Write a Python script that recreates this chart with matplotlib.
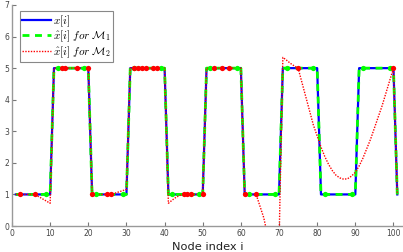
import numpy as np
import matplotlib
matplotlib.use("Agg")
import matplotlib.pyplot as plt

plt.rcParams['mathtext.fontset'] = 'cm'

# ---- data ----
node_index = list(range(1, 102))
signal_x = [1]*10 + [5]*10 + [1]*10 + [5]*10 + [1]*10 + [5]*10 + [1]*10 + [5]*10 + [1]*10 + [5]*10 + [1]

recon_m1 = list(signal_x)

recon_m2 = (
    [1, 1, 1, 1, 1, 1, 0.93, 0.86, 0.79, 0.72] +
    [5]*10 +
    [1, 1, 1, 1, 1, 1, 1.04, 1.08, 1.12, 1.16] +
    [5]*10 +
    [0.72, 0.82, 0.91, 0.97, 1, 1, 1, 1, 1, 1] +
    [5]*10 +
    [1, 1, 1, 1, 0.63, 0.26, -0.3, -1.0, -1.2, -0.6] +
    [5.34, 5.25, 5.15, 5.07, 5.0, 4.55, 4.1, 3.65, 3.2, 2.85] +
    [2.5, 2.2, 1.95, 1.75, 1.6, 1.52, 1.48, 1.5, 1.58, 1.7] +
    [1.9, 2.15, 2.45, 2.75, 3.1, 3.45, 3.8, 4.2, 4.6, 5.0] +
    [1]
)

samples_m1 = [9, 12, 19, 22, 29, 32, 39, 42, 49, 52, 59, 62, 69, 72, 79, 82, 89, 92, 99]
samples_m2 = [2, 6, 13, 14, 17, 20, 21, 25, 26, 32, 33, 34, 35, 37, 38, 45, 46, 47,
              50, 53, 55, 57, 61, 64, 75, 100]

x_ticks = [0, 10, 20, 30, 40, 50, 60, 70, 80, 90, 100]
y_ticks = [0, 1, 2, 3, 4, 5, 6, 7]

labels = [r'$x[i]$', r'$\hat{x}[i]\ for\ \mathcal{M}_1$', r'$\hat{x}[i]\ for\ \mathcal{M}_2$']

# ---- figure ----
fig = plt.figure(figsize=(4.03, 2.52), dpi=100)
ax = fig.add_axes([12/403, 1-226/252, 1-12/403, 221/252])

ax.plot(node_index, signal_x, color='#0000ff', lw=1.6, label=labels[0], zorder=2)
ax.plot(node_index, recon_m1, color='#00ff00', lw=2.0, dashes=(2.5, 2), label=labels[1], zorder=3)
ax.plot(node_index, recon_m2, color='#ff0000', lw=1.0, ls=(0, (1, 1)), label=labels[2], zorder=4)

sx1 = [signal_x[i-1] for i in samples_m1]
sx2 = [signal_x[i-1] for i in samples_m2]
ax.plot(samples_m1, sx1, 'o', color='#00ff00', ms=3.8, mec='none', zorder=5)
ax.plot(samples_m2, sx2, 'o', color='#ff0000', ms=3.8, mec='none', zorder=6)

ax.set_xlim(0, 102.5)
ax.set_ylim(0, 7)
ax.set_xticks(x_ticks)
ax.set_yticks(y_ticks)

for s in ['top', 'right']:
    ax.spines[s].set_visible(False)
for s in ['left', 'bottom']:
    ax.spines[s].set_color('#999999')
    ax.spines[s].set_linewidth(1.0)
ax.tick_params(direction='in', length=3, width=0.8, color='#777777',
               labelsize=5.5, labelcolor='#444444', pad=2)

ax.set_xlabel('Node index i', fontsize=8.2, color='#222222', labelpad=3)

leg = ax.legend(loc='upper left', bbox_to_anchor=(8/391, (226-11)/221), borderaxespad=0,
                fontsize=8.0, handlelength=2.6, handletextpad=0.15, labelspacing=0.0,
                borderpad=0.2, fancybox=False, framealpha=1, edgecolor='#888888')
leg.get_frame().set_linewidth(0.8)

fig.savefig('out.png', dpi=100)
